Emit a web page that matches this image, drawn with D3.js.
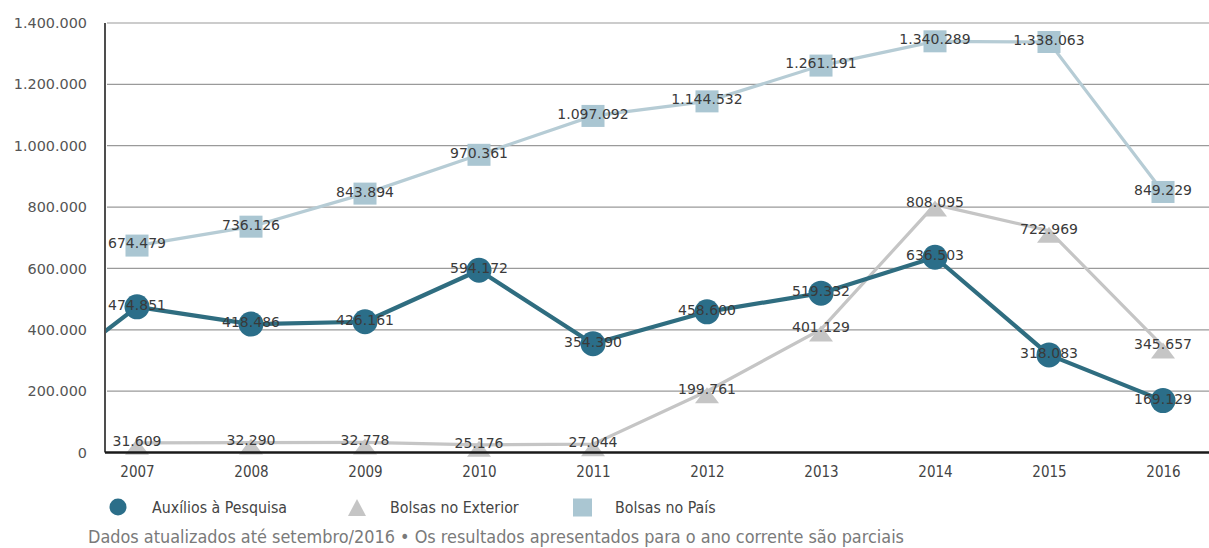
<!DOCTYPE html>
<html><head><meta charset="utf-8">
<script src="https://cdn.jsdelivr.net/npm/d3@7"></script>
<style>
html,body{margin:0;padding:0;background:#fff;}
svg{display:block;}
</style></head>
<body>
<svg id="chart" width="1209" height="548"></svg>
<script>
const years = [2007, 2008, 2009, 2010, 2011, 2012, 2013, 2014, 2015, 2016];
const auxilios = [474851, 418486, 426161, 594172, 354390, 458600, 519332, 636503, 318083, 169129];
const auxiliosPrevYear = 2006;
const auxiliosPrevValue = 190000;
const exterior = [31609, 32290, 32778, 25176, 27044, 199761, 401129, 808095, 722969, 345657];
const pais = [674479, 736126, 843894, 970361, 1097092, 1144532, 1261191, 1340289, 1338063, 849229];
const yTicks = [0, 200000, 400000, 600000, 800000, 1000000, 1200000, 1400000];
const seriesNames = ["Auxílios à Pesquisa", "Bolsas no Exterior", "Bolsas no País"];
const footnote = "Dados atualizados até setembro/2016 • Os resultados apresentados para o ano corrente são parciais";

(function () {
const loc = d3.formatLocale({decimal: ",", thousands: ".", grouping: [3], currency: ["", ""]});
const fmt = loc.format(",d");

const svg = d3.select("#chart");
const W = 1209;
const mLeft = 105, mTop = 23, mBottom = 452.5;
const x = d3.scaleLinear().domain([2007, 2016]).range([137, 1163]);
const y = d3.scaleLinear().domain([0, 1400000]).range([mBottom, mTop]);

const C = {aux: "#2b6e89", auxLine: "#2f6d80", ext: "#c5c5c5", pais: "#aac6d2", paisLine: "#b6ccd5"};
const condensed = "DejaVu Sans Condensed, DejaVu Sans, sans-serif";

// gridlines
svg.append("g").selectAll("line").data(yTicks.filter(d => d > 0)).join("line")
  .attr("x1", mLeft + 2).attr("x2", W).attr("y1", d => y(d)).attr("y2", d => y(d))
  .attr("stroke", "#9a9a9a").attr("stroke-width", 1.2);

// y axis
const yAxis = d3.axisLeft(y).tickValues(yTicks).tickFormat(fmt).tickSize(0).tickPadding(18);
const gy = svg.append("g").attr("transform", `translate(${mLeft},0)`).call(yAxis);
gy.select(".domain").remove();
gy.selectAll("text").attr("font-family", "DejaVu Sans, Verdana, sans-serif").attr("font-size", 14.4).attr("fill", "#555");
svg.append("line").attr("x1", mLeft).attr("x2", mLeft).attr("y1", mTop).attr("y2", mBottom)
  .attr("stroke", "#222").attr("stroke-width", 1.6);

// clip
svg.append("clipPath").attr("id", "plotclip").append("rect")
  .attr("x", mLeft + 1).attr("y", 0).attr("width", W - mLeft).attr("height", 460);

const plot = svg.append("g").attr("clip-path", "url(#plotclip)");

const line = d3.line().x(d => x(d[0])).y(d => y(d[1]));

plot.append("path").datum(years.map((yr, i) => [yr, pais[i]])).attr("d", line)
  .attr("fill", "none").attr("stroke", C.paisLine).attr("stroke-width", 3.2);
plot.append("path").datum(years.map((yr, i) => [yr, exterior[i]])).attr("d", line)
  .attr("fill", "none").attr("stroke", C.ext).attr("stroke-width", 3.2);
plot.append("path").datum([[auxiliosPrevYear, auxiliosPrevValue]].concat(years.map((yr, i) => [yr, auxilios[i]]))).attr("d", line)
  .attr("fill", "none").attr("stroke", C.auxLine).attr("stroke-width", 4.2).attr("stroke-linejoin", "round");

// markers
plot.append("g").selectAll("rect").data(years).join("rect")
  .attr("x", (d) => x(d) - 11.5).attr("y", (d, i) => y(pais[i]) - 11).attr("width", 23).attr("height", 22)
  .attr("fill", C.pais);
plot.append("g").selectAll("path").data(years).join("path")
  .attr("d", (d, i) => {
    const cx = x(d), cy = y(exterior[i]);
    return `M${cx},${cy - 4}L${cx + 12},${cy + 12}L${cx - 12},${cy + 12}Z`;
  })
  .attr("fill", C.ext);
plot.append("g").selectAll("circle").data(years).join("circle")
  .attr("cx", d => x(d)).attr("cy", (d, i) => y(auxilios[i])).attr("r", 12.5)
  .attr("fill", C.aux);

// x axis
svg.append("line").attr("x1", mLeft).attr("x2", W).attr("y1", mBottom).attr("y2", mBottom)
  .attr("stroke", "#1a1a1a").attr("stroke-width", 2.6);
const xAxis = d3.axisBottom(x).tickValues(years).tickFormat(d3.format("d")).tickSize(0).tickPadding(14);
const gx = svg.append("g").attr("transform", `translate(0,${mBottom})`).call(xAxis);
gx.select(".domain").remove();
gx.selectAll("text").attr("font-family", condensed).attr("font-size", 15).attr("fill", "#444");

// value labels
const labelFont = "DejaVu Sans, Verdana, sans-serif";
function labels(vals) {
  svg.append("g").selectAll("text").data(years).join("text")
    .attr("x", d => x(d)).attr("y", (d, i) => y(vals[i]) - 2).attr("dy", "0.35em")
    .attr("text-anchor", "middle").attr("font-family", labelFont).attr("font-size", 14)
    .attr("fill", "#3a3a3a").text((d, i) => fmt(vals[i]));
}
labels(pais);
labels(exterior);
labels(auxilios);

// legend
const lg = svg.append("g");
const legY = 507;
lg.append("circle").attr("cx", 118).attr("cy", legY).attr("r", 8.5).attr("fill", C.aux);
lg.append("path").attr("d", `M357,${legY - 8}L366,${legY + 9}L348,${legY + 9}Z`).attr("fill", C.ext);
lg.append("rect").attr("x", 573).attr("y", legY - 8.5).attr("width", 19).attr("height", 18).attr("fill", C.pais);
const legX = [152, 390, 615];
lg.selectAll("text").data(seriesNames).join("text")
  .attr("x", (d, i) => legX[i]).attr("y", legY).attr("dy", "0.35em")
  .attr("font-family", condensed).attr("font-size", 15.8)
  .attr("fill", "#444").text(d => d);

svg.append("text").attr("x", 88).attr("y", 537).attr("dy", "0.35em")
  .attr("font-family", condensed).attr("font-size", 17.9)
  .attr("fill", "#7a7a7a").text(footnote);
})();
</script>
</body></html>
